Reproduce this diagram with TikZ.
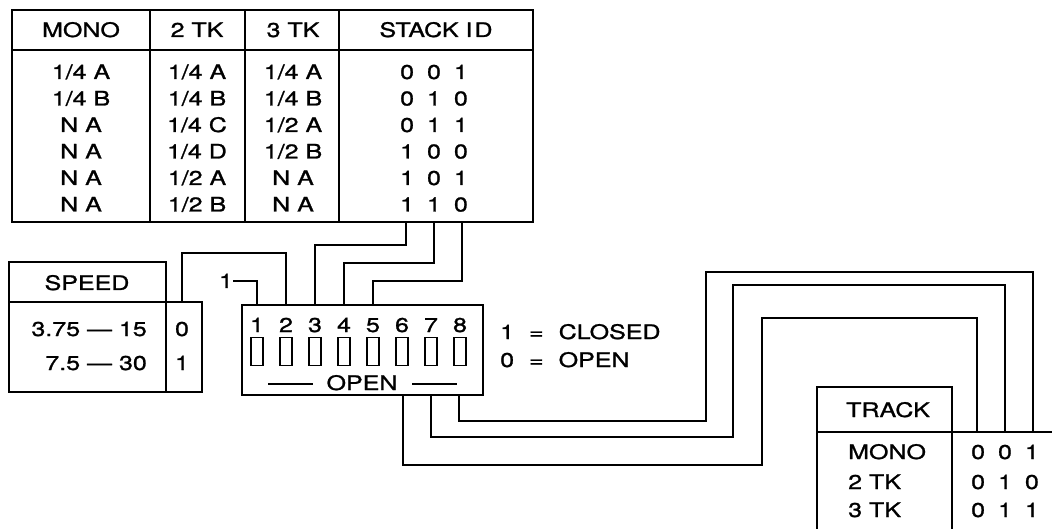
\documentclass[tikz,border=0pt]{standalone}
\usepackage{fontspec}
\setmainfont{TeX Gyre Heros}[FakeStretch=1.25, FakeBold=1.2]
\newcommand{\bits}[3]{#1\hspace{13pt}#2\hspace{13pt}#3}
\tikzset{
    frame/.style={draw=black, line width=1.8pt, line join=miter},
    cell/.style={inner sep=0pt, text height=14pt, text depth=0pt,
        font=\fontsize{20}{22}\selectfont},
    swbox/.style={draw=black, line width=1.3pt, minimum width=12pt,
        minimum height=28pt, inner sep=0pt},
    wire/.style={draw=black, line width=1.7pt, line join=miter},
    rule/.style={draw=black, line width=1.4pt}
}
\begin{document}
\begin{tikzpicture}[x=1pt, y=-1pt]
      \useasboundingbox (0,0) rectangle (1052,529);
      \draw[frame] (12,10) rectangle (533,222);
      \draw[frame] (12,50) -- (533,50);
      \draw[frame] (150,10) -- (150,222); \draw[frame] (245,10) -- (245,222);
      \draw[frame] (339,10) -- (339,222);
      \node[cell] (H1) at (81,30)  {MONO};
      \node[cell] (H2) at (197,30) {2 TK};
      \node[cell] (H3) at (293,30) {3 TK};
      \node[cell] (H4) at (436,30) {STACK I\hspace{2pt}D};
      \node[cell] (M1) at (81,72)    {1/4 A};
      \node[cell] (M2) at (81,98.5)  {1/4 B};
      \node[cell] (M3) at (81,125)   {N A};
      \node[cell] (M4) at (81,151.5) {N A};
      \node[cell] (M5) at (81,178)   {N A};
      \node[cell] (M6) at (81,204.5) {N A};
      \node[cell] (T1) at (197,72)    {1/4 A};
      \node[cell] (T2) at (197,98.5)  {1/4 B};
      \node[cell] (T3) at (197,125)   {1/4 C};
      \node[cell] (T4) at (197,151.5) {1/4 D};
      \node[cell] (T5) at (197,178)   {1/2 A};
      \node[cell] (T6) at (197,204.5) {1/2 B};
      \node[cell] (R1) at (293,72)    {1/4 A};
      \node[cell] (R2) at (293,98.5)  {1/4 B};
      \node[cell] (R3) at (293,125)   {1/2 A};
      \node[cell] (R4) at (293,151.5) {1/2 B};
      \node[cell] (R5) at (293,178)   {N A};
      \node[cell] (R6) at (293,204.5) {N A};
      \node[cell] (ID1) at (434,72)    {\bits{0}{0}{1}};
      \node[cell] (ID2) at (434,98.5)  {\bits{0}{1}{0}};
      \node[cell] (ID3) at (434,125)   {\bits{0}{1}{1}};
      \node[cell] (ID4) at (434,151.5) {\bits{1}{0}{0}};
      \node[cell] (ID5) at (434,178)   {\bits{1}{0}{1}};
      \node[cell] (ID6) at (434,204.5) {\bits{1}{1}{0}};
      \draw[frame] (9,262) rectangle (166,392);
      \draw[frame] (9,302) -- (202,302) -- (202,392) -- (166,392);
      \node[cell] (SPD) at (87,283) {SPEED};
      \node[cell, anchor=east] (S1) at (147,329) {3.75 — 15};
      \node[cell, anchor=east] (S2) at (147,363) {7.5 — 30};
      \node[cell] (V0) at (182,329) {0};
      \node[cell] (V1) at (182,363) {1};
      \draw[frame] (242,305) rectangle (483,395);
      \node[cell] (N1) at (257,325) {1}; \node[cell] (N2) at (286,325) {2};
      \node[cell] (N3) at (315,325) {3}; \node[cell] (N4) at (344,325) {4};
      \node[cell] (N5) at (373,325) {5}; \node[cell] (N6) at (402,325) {6};
      \node[cell] (N7) at (431,325) {7}; \node[cell] (N8) at (460,325) {8};
      \node[swbox] (W1) at (257,351.5) {}; \node[swbox] (W2) at (286,351.5) {};
      \node[swbox] (W3) at (315,351.5) {}; \node[swbox] (W4) at (344,351.5) {};
      \node[swbox] (W5) at (373,351.5) {}; \node[swbox] (W6) at (402,351.5) {};
      \node[swbox] (W7) at (431,351.5) {}; \node[swbox] (W8) at (460,351.5) {};
      \node[cell] (OPN) at (362,383) {OPEN};
      \draw[rule] (268,384) -- (313,384); \draw[rule] (412,384) -- (457,384);
      \node[cell, anchor=west] (CL) at (500,332) {1\hspace{15pt}=\hspace{15pt}CLOSED};
      \node[cell, anchor=west] (OP) at (500,360) {0\hspace{15pt}=\hspace{15pt}OPEN};
      \node[cell] (ONE) at (226,281) {1};
      \draw[frame] (817,529) -- (817,387) -- (952,387) -- (952,529);
      \draw[frame] (817,432) -- (1052,432);
      \node[cell] (TRK) at (888,410) {TRACK};
      \node[cell, anchor=west] (K1) at (848,452) {MONO};
      \node[cell, anchor=west] (K2) at (848,482) {2 TK};
      \node[cell, anchor=west] (K3) at (848,510) {3 TK};
      \node[cell] (B1) at (1005,452) {\bits{0}{0}{1}};
      \node[cell] (B2) at (1005,482) {\bits{0}{1}{0}};
      \node[cell] (B3) at (1005,510) {\bits{0}{1}{1}};
      \coordinate (P1) at (257,305); \coordinate (P2) at (286,305);
      \coordinate (P3) at (315,305); \coordinate (P4) at (344,305);
      \coordinate (P5) at (373,305); \coordinate (P6) at (403,395);
      \coordinate (P7) at (431,395); \coordinate (P8) at (459,395);
      \coordinate (SP) at (182,302);
      \coordinate (A1) at (406,222); \coordinate (A2) at (434,222);
      \coordinate (A3) at (462,222);
      \coordinate (E1) at (977,432); \coordinate (E2) at (1005,432);
      \coordinate (E3) at (1033,432);
      \coordinate (C2) at (182,253); \coordinate (C3) at (406,245);
      \coordinate (C4) at (434,263); \coordinate (C5) at (462,281);
      \coordinate (C6) at (762,465); \coordinate (D6) at (762,318);
      \coordinate (C7) at (733,437); \coordinate (D7) at (733,285);
      \coordinate (C8) at (706,421); \coordinate (D8) at (706,272);
      \draw[wire] (P1) |- (ONE.east);
      \draw[wire] (P2) |- (C2) -- (SP);
      \draw[wire] (P3) |- (C3) -- (A1);
      \draw[wire] (P4) |- (C4) -- (A2);
      \draw[wire] (P5) |- (C5) -- (A3);
      \draw[wire] (P6) |- (C6) -- (D6) -| (E1);
      \draw[wire] (P7) |- (C7) -- (D7) -| (E2);
      \draw[wire] (P8) |- (C8) -- (D8) -| (E3);
\end{tikzpicture}
\end{document}
